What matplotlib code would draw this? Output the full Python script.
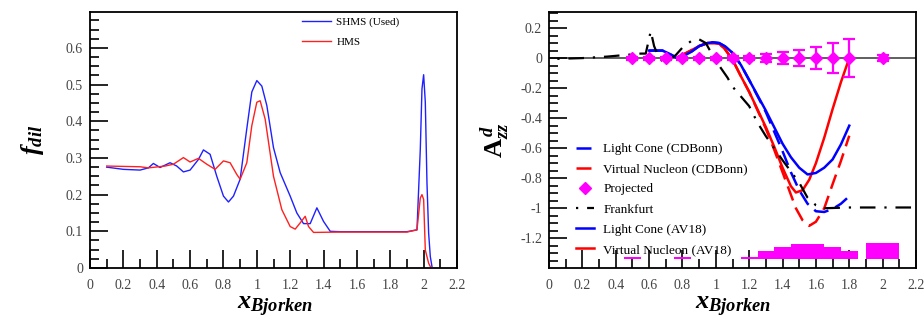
import matplotlib.pyplot as plt
import numpy as np
from matplotlib.ticker import MultipleLocator

plt.rcParams['font.family'] = ['Liberation Serif', 'DejaVu Serif']
plt.rcParams['mathtext.fontset'] = 'custom'
plt.rcParams['mathtext.it'] = 'Liberation Serif:italic:bold'
plt.rcParams['mathtext.rm'] = 'Liberation Serif:bold'
plt.rcParams['mathtext.bf'] = 'Liberation Serif:bold'

# dilution factor, SHMS and HMS settings
shms_x = [0.10, 0.20, 0.30, 0.35, 0.38, 0.42, 0.48, 0.52, 0.56, 0.60, 0.65, 0.68,
          0.72, 0.76, 0.80, 0.83, 0.86, 0.90, 0.94, 0.97, 1.00, 1.03, 1.06, 1.10,
          1.14, 1.20, 1.24, 1.28, 1.32, 1.36, 1.40, 1.44, 1.50, 1.60, 1.70, 1.80,
          1.90, 1.96, 1.98, 1.99, 2.00, 2.01, 2.02, 2.03, 2.04, 2.05]
shms_f = [0.275, 0.269, 0.267, 0.273, 0.285, 0.274, 0.287, 0.278, 0.262, 0.267, 0.296, 0.322,
          0.310, 0.250, 0.196, 0.180, 0.196, 0.242, 0.380, 0.480, 0.511, 0.496, 0.443, 0.328,
          0.260, 0.196, 0.150, 0.121, 0.121, 0.164, 0.127, 0.100, 0.099, 0.099, 0.099, 0.099,
          0.099, 0.104, 0.324, 0.488, 0.527, 0.452, 0.232, 0.095, 0.031, 0.004]

hms_x = [0.10, 0.30, 0.35, 0.45, 0.50, 0.56, 0.60, 0.65, 0.70, 0.75, 0.80, 0.84,
         0.88, 0.90, 0.94, 0.97, 1.00, 1.02, 1.05, 1.10, 1.15, 1.20, 1.23, 1.26,
         1.29, 1.31, 1.34, 1.50, 1.70, 1.90, 1.96, 1.98, 1.99, 2.00, 2.01, 2.03, 2.04]
hms_f = [0.278, 0.276, 0.273, 0.278, 0.283, 0.301, 0.289, 0.299, 0.283, 0.269, 0.292, 0.287,
         0.255, 0.242, 0.287, 0.388, 0.452, 0.456, 0.406, 0.250, 0.159, 0.113, 0.106, 0.123,
         0.141, 0.113, 0.097, 0.098, 0.098, 0.098, 0.104, 0.191, 0.200, 0.187, 0.049, 0.013, 0.004]

# A_zz models
frank_x = [0.05, 0.20, 0.35, 0.45, 0.55, 0.58, 0.61, 0.63, 0.66, 0.68, 0.72, 0.76, 0.80,
           0.86, 0.90, 0.94, 0.97, 1.02, 1.07, 1.10, 1.20, 1.25, 1.30, 1.40, 1.50, 1.55,
           1.60, 1.65, 1.80, 2.00, 2.20]
frank_a = [-0.005, 0.0, 0.01, 0.02, 0.03, 0.03, 0.18, 0.08, 0.0, -0.02, -0.01, 0.02, 0.07,
           0.12, 0.125, 0.10, 0.04, -0.05, -0.13, -0.19, -0.32, -0.43, -0.52, -0.68, -0.83, -0.93,
           -0.98, -1.0, -0.995, -0.995, -0.995]

lc_x = [0.60, 0.68, 0.72, 0.76, 0.80, 0.85, 0.90, 0.95, 0.98, 1.02, 1.06, 1.10, 1.15,
        1.20, 1.30, 1.40, 1.45, 1.50, 1.55, 1.60, 1.65, 1.70, 1.75, 1.80]
lc_av18 = [0.05, 0.05, 0.03, 0.005, 0.01, 0.04, 0.08, 0.10, 0.105, 0.10, 0.075, 0.035, -0.045,
           -0.146, -0.35, -0.57, -0.66, -0.73, -0.775, -0.765, -0.73, -0.675, -0.575, -0.45]
lc_cdbonn = [0.05, 0.05, 0.03, 0.005, 0.01, 0.04, 0.08, 0.10, 0.105, 0.10, 0.075, 0.035, -0.045,
             -0.146, -0.36, -0.62, -0.76, -0.88, -0.97, -1.02, -1.025, -1.005, -0.97, -0.92]

vn_x = [0.78, 0.85, 0.90, 0.95, 0.98, 1.02, 1.05, 1.10, 1.15, 1.20, 1.30, 1.35, 1.40,
        1.45, 1.48, 1.52, 1.56, 1.60, 1.65, 1.70, 1.75, 1.80]
vn_av18 = [0.01, 0.05, 0.08, 0.10, 0.10, 0.095, 0.067, -0.01, -0.12, -0.225, -0.46, -0.59, -0.73,
           -0.853, -0.895, -0.88, -0.81, -0.70, -0.53, -0.34, -0.16, 0.0]
vn_cdbonn = [0.01, 0.05, 0.08, 0.10, 0.10, 0.095, 0.067, -0.01, -0.12, -0.225, -0.47, -0.61, -0.76,
             -0.91, -1.00, -1.08, -1.117, -1.09, -1.0, -0.84, -0.685, -0.517]

proj_x = [0.5, 0.6, 0.7, 0.8, 0.9, 1.0, 1.1, 1.2, 1.3, 1.4, 1.5, 1.6, 1.7, 1.8, 2.0]
proj_a = [0.0] * len(proj_x)
proj_err = [0.01, 0.01, 0.01, 0.01, 0.01, 0.01, 0.012, 0.015, 0.027, 0.038, 0.052, 0.072,
            0.10, 0.125, 0.022]

# systematic error band at the bottom
sys_lo = [0.45, 0.75, 1.15, 1.25, 1.35, 1.45, 1.55, 1.65, 1.75, 1.90]
sys_hi = [0.55, 0.85, 1.25, 1.35, 1.45, 1.55, 1.65, 1.75, 1.85, 2.10]
sys_size = [0.010, 0.010, 0.010, 0.054, 0.080, 0.100, 0.100, 0.078, 0.056, 0.109]
sys_base = -1.338

fig = plt.figure(figsize=(9.24, 3.25), dpi=100)
ax1 = fig.add_axes([90/924, 57/325, 367/924, 256/325])
ax2 = fig.add_axes([549/924, 57/325, 367/924, 256/325])

tick_col = '#444444'


def root_style(ax, ymaj, ymin):
    ax.set_xlim(0, 2.2)
    ax.xaxis.set_major_locator(MultipleLocator(0.2))
    ax.xaxis.set_minor_locator(MultipleLocator(0.1))
    ax.yaxis.set_major_locator(MultipleLocator(ymaj))
    ax.yaxis.set_minor_locator(MultipleLocator(ymin))
    ax.tick_params(which='both', direction='in', top=False, right=False,
                   colors='black', labelcolor=tick_col, labelsize=10, width=1.2)
    ax.tick_params(which='major', length=13)
    ax.tick_params(which='minor', length=6.5)
    ax.tick_params(axis='x', pad=8)
    ax.tick_params(axis='y', pad=5)
    for s in ax.spines.values():
        s.set_linewidth(1.3)
    ax.xaxis.set_major_formatter(plt.FuncFormatter(lambda v, p: '%g' % round(v, 2)))
    ax.yaxis.set_major_formatter(plt.FuncFormatter(lambda v, p: '%g' % round(v, 2)))


# left: dilution factor
ax1.plot(shms_x, shms_f, color='#2020ff', lw=1.0, label='SHMS (Used)')
ax1.plot(hms_x, hms_f, color='#ff2020', lw=1.0, label='HMS')
ax1.set_ylim(0, 0.698)
root_style(ax1, 0.1, 0.025)
ax1.legend(loc='upper left', bbox_to_anchor=(0.55, 1.02), frameon=False, fontsize=8,
           handlelength=2.6, handletextpad=0.5, labelspacing=0.9)

# right: tensor asymmetry
ax2.axhline(0, color='#444444', lw=1.2, zorder=1)
ax2.bar(sys_lo, sys_size, width=np.array(sys_hi) - np.array(sys_lo), bottom=sys_base,
        align='edge', color='#ff00ff', edgecolor='none', zorder=2)
h_lc_cd, = ax2.plot(lc_x, lc_cdbonn, color='#0000ff', lw=1.8, ls=(0, (6, 3)), zorder=3)
h_vn_cd, = ax2.plot(vn_x, vn_cdbonn, color='#ff0000', lw=1.8, ls=(0, (6, 3)), zorder=3)
h_proj = ax2.errorbar(proj_x, proj_a, yerr=proj_err, fmt='D', color='#ff00ff', ms=6, lw=1.6,
                      capsize=4.3, capthick=1.6, zorder=5)
h_fr, = ax2.plot(frank_x, frank_a, color='black', lw=1.6, ls=(0, (1, 4, 7, 4)), zorder=4)
h_vn, = ax2.plot(vn_x, vn_av18, color='#ff0000', lw=1.8, zorder=3)
h_lc, = ax2.plot(lc_x, lc_av18, color='#0000ff', lw=1.8, zorder=3)
ax2.set_ylim(-1.398, 0.307)
root_style(ax2, 0.2, 0.05)

ax2.legend([h_lc_cd, h_vn_cd, h_proj[0], h_fr, h_lc, h_vn],
           ['Light Cone (CDBonn)', 'Virtual Nucleon (CDBonn)', 'Projected', 'Frankfurt',
            'Light Cone (AV18)', 'Virtual Nucleon (AV18)'],
           loc='upper left', bbox_to_anchor=(0.04, 0.535), frameon=False,
           fontsize=9.5, handlelength=1.4, handletextpad=0.7, labelspacing=0.6)

label_kw = dict(fontsize=19, ha='center', va='center')
fig.text(275/924, 1 - 307/325, r'$x_{Bjorken}$', **label_kw)
fig.text(733/924, 1 - 307/325, r'$x_{Bjorken}$', **label_kw)
fig.text(33/924, 1 - 140/325, r'$f_{dil}$', rotation=90, **label_kw)
fig.text(495/924, 1 - 140/325, r'$\mathrm{A}_{zz}^{\,d}$', rotation=90, **label_kw)

fig.savefig('out.png', dpi=100)
